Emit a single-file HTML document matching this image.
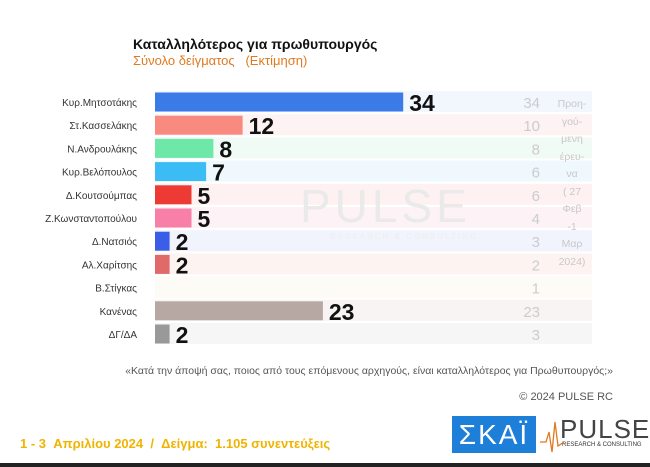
<!DOCTYPE html>
<html><head><meta charset="utf-8"><style>
body{margin:0;width:650px;height:467px;background:#fff;overflow:hidden;position:relative;font-family:"Liberation Sans","Noto Sans CJK SC",sans-serif}
.abs{position:absolute}
</style></head><body>
<div class="abs" style="left:133px;top:36px;font-size:14px;font-weight:bold;color:#111">Καταλληλότερος για πρωθυπουργός</div>
<div class="abs" style="left:133px;top:53px;font-size:13px;color:#e07a20">Σύνολο δείγματος &nbsp;&nbsp;(Εκτίμηση)</div>
<svg id="chart" class="abs" style="left:0;top:0" width="650" height="350">
<text x="300" y="222" font-size="46" fill="#eaeaea" letter-spacing="4">PULSE</text>
<text x="330" y="239" font-size="8" fill="#eee" letter-spacing="2">RESEARCH &amp; CONSULTING</text>
</svg>
<div class="abs" style="left:552px;top:96px;width:40px;font-size:10.5px;color:#c8c8c8;line-height:17.5px;text-align:center">Προη-<br>γού-<br>μενη<br>έρευ-<br>να<br>( 27<br>Φεβ<br>-1<br>Μαρ<br>2024)</div>
<div class="abs" style="right:37px;top:365px;font-size:10.5px;color:#555">«Κατά την άποψή σας, ποιος από τους επόμενους αρχηγούς, είναι καταλληλότερος για Πρωθυπουργός;»</div>
<div class="abs" style="right:37px;top:391px;font-size:11px;color:#555">© 2024 PULSE RC</div>
<div class="abs" style="left:20px;top:436px;font-size:13px;font-weight:bold;color:#f0b400">1 - 3 &nbsp;Απριλίου 2024 &nbsp;/ &nbsp;Δείγμα: &nbsp;1.105 συνεντεύξεις</div>
<div class="abs" style="left:452px;top:416px;width:84px;height:37px;background:#1e7fd8;color:#fff;font-size:28px;text-align:center;line-height:37px;letter-spacing:2px">ΣΚΑΪ</div>
<div class="abs" style="left:560px;top:414px;font-size:26px;color:#444;letter-spacing:1px">PULSE</div>
<div class="abs" style="left:562px;top:442px;font-size:6px;color:#333">RESEARCH &amp; CONSULTING</div>
<svg class="abs" style="left:540px;top:418px" width="24" height="36"><polyline points="0,24 6,24 9,14 12,34 15,4 18,28 24,24" fill="none" stroke="#e07a20" stroke-width="1.3"/></svg>
<div class="abs" style="left:0;top:463px;width:650px;height:4px;background:#222"></div>
<script>
const categories=["Κυρ.Μητσοτάκης","Στ.Κασσελάκης","Ν.Ανδρουλάκης","Κυρ.Βελόπουλος","Δ.Κουτσούμπας","Ζ.Κωνσταντοπούλου","Δ.Νατσιός","Αλ.Χαρίτσης","Β.Στίγκας","Κανένας","ΔΓ/ΔΑ"];
const values=[34,12,8,7,5,5,2,2,null,23,2];
const previous=[34,10,8,6,6,4,3,2,1,23,3];
const colors=["#3b7be8","#f88a80","#6de8a8","#3cbcf5","#ee3a35","#f87fa8","#3a5ee8","#e06a6a","#ccc","#b8a8a4","#999"];
const bands=["#f2f6fd","#fdf3f2","#f0fbf5","#eff8fd","#fdf1f1","#fdf2f6","#f1f3fd","#fdf4f2","#fdfbf5","#f7f4f3","#f6f6f6"];
const svg=document.getElementById('chart');const NS="http://www.w3.org/2000/svg";
const x0=155,scale=7.3,y0=102,step=23.2,bh=19;
const xs=v=>v*scale, ys=i=>y0+i*step;
function mk(t,a){const e=document.createElementNS(NS,t);for(const k in a)e.setAttribute(k,a[k]);return e;}
categories.forEach((c,i)=>{
 const y=ys(i);
 const band=mk('rect',{x:x0,y:y-11,width:437,height:21,fill:bands[i]});
 
 
 svg.insertBefore(band,svg.firstChild);
 const l=mk('text',{x:137,y:y+4,'text-anchor':'end','font-size':10,fill:'#333'});l.textContent=c;
 
 
 svg.appendChild(l);
 if(values[i]!=null){
  const r=mk('rect',{x:x0,y:y-bh/2,width:xs(values[i]),height:bh,fill:colors[i]});
  
  
  svg.appendChild(r);
  const v=mk('text',{x:x0+xs(values[i])+6,y:y+9,'font-size':23,'font-weight':'bold',fill:'#111'});v.textContent=values[i];
  
  
  svg.appendChild(v);
 }
 const p=mk('text',{x:540,y:y+6,'text-anchor':'end','font-size':15,fill:'#ccc'});p.textContent=previous[i];
 
 
 svg.appendChild(p);
});
</script>
</body></html>
